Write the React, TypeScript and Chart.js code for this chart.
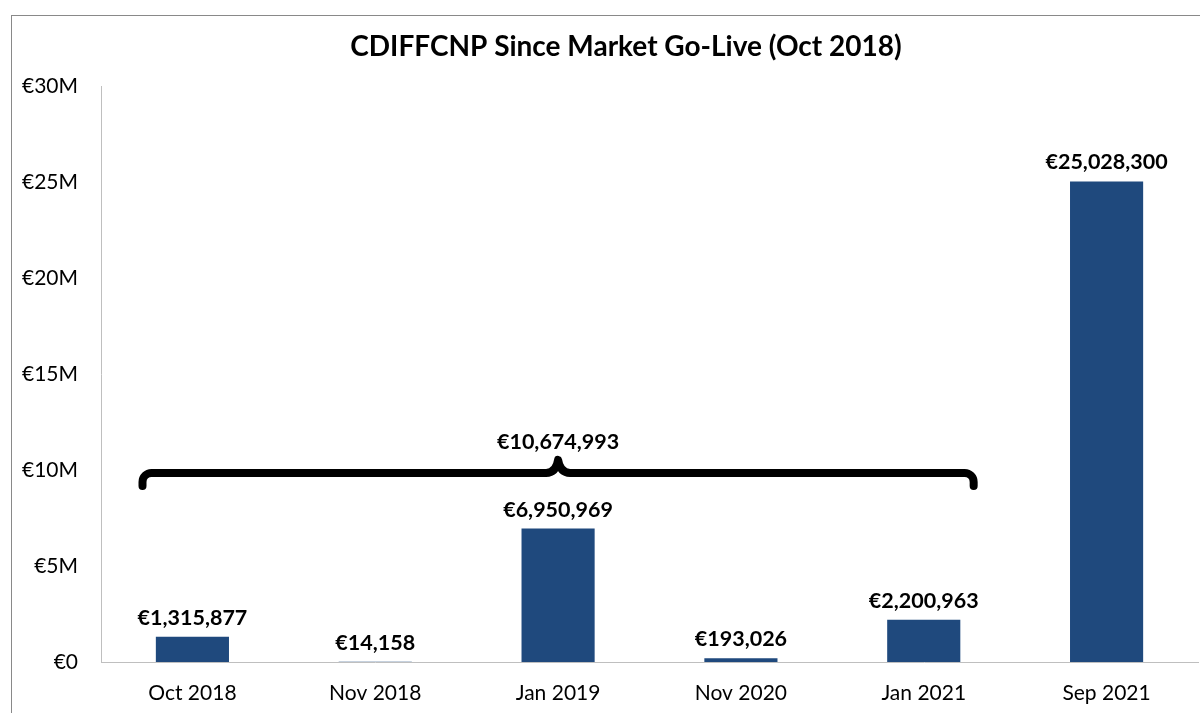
import React, { useEffect, useRef } from "react";
import { Chart, registerables } from "chart.js";

Chart.register(...registerables);

const categories = ["Oct 2018", "Nov 2018", "Jan 2019", "Nov 2020", "Jan 2021", "Sep 2021"];
const values = [1315877, 14158, 6950969, 193026, 2200963, 25028300];
const yTickStep = 5000000;
const yMax = 30000000;
const braceFromIndex = 0;
const braceToIndex = 4;
const braceLevel = 9850000;
const titleText = "CDIFFCNP Since Market Go-Live (Oct 2018)";

const FONT = "Lato, 'Open Sans', sans-serif";
const BAR_COLOR = "#1F497D";

const fmtEuro = (v: number) => "€" + Math.round(v).toLocaleString("en-US");

const framePlugin = {
  id: "frame",
  beforeDraw(chart: any) {
    const ctx = chart.ctx;
    ctx.save();
    ctx.fillStyle = "#ffffff";
    ctx.fillRect(0, 0, chart.width, chart.height);
    ctx.strokeStyle = "#898989";
    ctx.lineWidth = 1;
    ctx.strokeRect(11.5, 15.5, chart.width - 22, chart.height + 40);
    // title centred in the chart frame
    ctx.font = `bold 28px ${FONT}`;
    ctx.fillStyle = "#000000";
    ctx.textAlign = "center";
    ctx.textBaseline = "alphabetic";
    ctx.fillText(titleText, chart.width / 2, 56);
    ctx.restore();
  },
};

const labelPlugin = {
  id: "valueLabels",
  afterDatasetsDraw(chart: any) {
    const ctx = chart.ctx;
    const meta = chart.getDatasetMeta(0);
    ctx.save();
    ctx.font = `bold 21.5px ${FONT}`;
    ctx.fillStyle = "#000000";
    ctx.textAlign = "center";
    ctx.textBaseline = "alphabetic";
    meta.data.forEach((bar: any, i: number) => {
      ctx.fillText(fmtEuro(values[i]), bar.x, bar.y - 12);
    });

    // brace
    const xs = chart.scales.x;
    const ys = chart.scales.y;
    const catW = xs.width / categories.length;
    const L = xs.getPixelForValue(braceFromIndex) - catW * 0.273;
    const R = xs.getPixelForValue(braceToIndex) + catW * 0.273;
    const M = (L + R) / 2;
    const y = ys.getPixelForValue(braceLevel);
    const r = 9;
    const ext = 13;
    const tip = 13;
    ctx.strokeStyle = "#000000";
    ctx.lineWidth = 8;
    ctx.lineCap = "round";
    ctx.lineJoin = "round";
    ctx.beginPath();
    ctx.moveTo(L, y + ext);
    ctx.lineTo(L, y + r);
    ctx.arcTo(L, y, L + r, y, r);
    ctx.lineTo(M - 12, y);
    ctx.quadraticCurveTo(M - 2, y, M, y - tip);
    ctx.quadraticCurveTo(M + 2, y, M + 12, y);
    ctx.lineTo(R - r, y);
    ctx.arcTo(R, y, R, y + r, r);
    ctx.lineTo(R, y + ext);
    ctx.stroke();

    let sum = 0;
    for (let i = braceFromIndex; i <= braceToIndex; i++) sum += values[i];
    ctx.fillText(fmtEuro(sum), M, y - tip - 11);
    ctx.restore();
  },
};

export default function App() {
  const ref = useRef<HTMLCanvasElement | null>(null);

  useEffect(() => {
    if (!ref.current) return;
    const chart = new Chart(ref.current, {
      type: "bar",
      data: {
        labels: categories,
        datasets: [
          {
            data: values,
            backgroundColor: BAR_COLOR,
            borderWidth: 0,
            barPercentage: 0.4,
            categoryPercentage: 1,
          },
        ],
      },
      options: {
        responsive: false,
        animation: false,
        devicePixelRatio: 1,
        layout: { padding: { left: 0, right: 54, top: 86, bottom: 0 } },
        plugins: {
          legend: { display: false },
          tooltip: { enabled: false },
          title: { display: false },
        },
        scales: {
          x: {
            grid: { display: false, drawTicks: false },
            border: { display: true, color: "#BFBFBF", width: 1 },
            ticks: {
              color: "#000000",
              font: { family: FONT, size: 21 },
              padding: 19,
              maxRotation: 0,
            },
            afterFit(scale: any) {
              scale.height = 51;
            },
          },
          y: {
            min: 0,
            max: yMax,
            grid: { display: false, drawTicks: false },
            border: { display: true, color: "#BFBFBF", width: 1 },
            ticks: {
              stepSize: yTickStep,
              color: "#000000",
              font: { family: FONT, size: 21 },
              padding: 23,
              callback: (v: any) => (Number(v) === 0 ? "€0" : `€${Number(v) / 1000000}M`),
            },
            afterFit(scale: any) {
              scale.width = 101;
            },
          },
        },
      },
      plugins: [framePlugin, labelPlugin],
    });
    return () => chart.destroy();
  }, []);

  return (
    <div style={{ position: "fixed", left: 0, top: 0, width: 1200, height: 713, overflow: "hidden", background: "#fff" }}>
      <canvas ref={ref} width={1252} height={713} style={{ display: "block", width: 1252, height: 713 }} />
    </div>
  );
}
